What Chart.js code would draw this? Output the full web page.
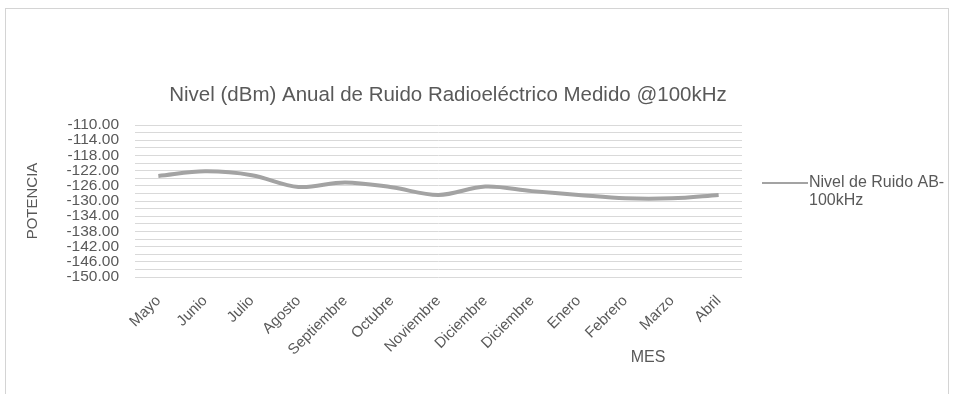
<!DOCTYPE html>
<html lang="es">
<head>
<meta charset="utf-8">
<title>Nivel de Ruido Radioeléctrico</title>
<script src="https://cdn.jsdelivr.net/npm/chart.js@4.4.1/dist/chart.umd.min.js"></script>
<style>
  html, body { margin: 0; padding: 0; background: #fff; }
  .wrap { position: relative; width: 956px; height: 394px; overflow: hidden; }
  .frame {
    position: absolute; left: 5px; top: 8px; width: 944px; height: 400px;
    border: 1px solid #d4d4d4; box-sizing: border-box;
  }
  canvas { position: absolute; left: 0; top: 0; }
</style>
</head>
<body>
<div class="wrap">
  <div class="frame"></div>
  <canvas id="noiseChart" width="956" height="394"></canvas>
</div>
<script>
const MONTHS = ['Mayo', 'Junio', 'Julio', 'Agosto', 'Septiembre', 'Octubre', 'Noviembre',
                'Diciembre', 'Diciembre', 'Enero', 'Febrero', 'Marzo', 'Abril'];

// nivel medido por mes (dBm)
const NOISE_DBM = [-123.4, -122.2, -123.2, -126.3, -125.1, -126.4, -128.4,
                   -126.2, -127.4, -128.4, -129.3, -129.3, -128.4];

const SERIES_NAME = ['Nivel de Ruido AB-', '100kHz'];
const TITLE = 'Nivel (dBm) Anual de Ruido Radioeléctrico Medido @100kHz';

const Y_MIN  = -150;
const Y_MAX  = -110;
const Y_STEP = 2;   // grid every 2, label every 4

const FONT  = "'Liberation Sans Narrow', 'Arial Narrow', 'Liberation Sans', Arial, sans-serif";
const TEXT  = '#595959';
const LINE  = '#a3a3a3';
const GRID  = '#d9d9d9';

// title, side legend and the offset "MES" label are painted by hand
const extraText = {
  id: 'extraText',
  afterDraw(chart) {
    const { ctx, chartArea } = chart;
    ctx.save();
    ctx.fillStyle = TEXT;
    ctx.textBaseline = 'middle';

    ctx.font = `20.5px ${FONT}`;
    ctx.textAlign = 'center';
    ctx.fillText(TITLE, 448, 95);

    ctx.font = `16px ${FONT}`;
    ctx.fillText('MES', chartArea.left + 513, 358);

    const lx = chartArea.right + 20;
    const ly = 183;
    ctx.strokeStyle = chart.data.datasets[0].borderColor;
    ctx.lineWidth = 2;
    ctx.beginPath();
    ctx.moveTo(lx, ly);
    ctx.lineTo(lx + 46, ly);
    ctx.stroke();

    ctx.textAlign = 'left';
    SERIES_NAME.forEach((t, i) => ctx.fillText(t, lx + 47, ly + i * 18));
    ctx.restore();
  }
};

new Chart(document.getElementById('noiseChart'), {
  type: 'line',
  data: {
    labels: MONTHS,
    datasets: [{
      label: SERIES_NAME.join(''),
      data: NOISE_DBM,
      borderColor: LINE,
      backgroundColor: LINE,
      borderWidth: 4,
      pointRadius: 0,
      tension: 0.35,
      fill: false,
    }]
  },
  options: {
    responsive: false,
    animation: false,
    layout: { padding: { top: 125, right: 214, bottom: 0, left: 0 } },
    plugins: {
      legend: { display: false },
      title: { display: false },
      tooltip: { enabled: false },
    },
    scales: {
      x: {
        offset: true,
        grid: { display: false },
        border: { display: false },
        ticks: {
          color: TEXT,
          font: { family: FONT, size: 15 },
          minRotation: 45, maxRotation: 45,
          autoSkip: false,
          padding: 7,
        },
        afterFit(scale) { scale.height = 117; },
      },
      y: {
        min: Y_MIN, max: Y_MAX,
        border: { display: false },
        grid: { color: GRID, drawTicks: false, lineWidth: 1 },
        ticks: {
          stepSize: Y_STEP,
          autoSkip: false,
          padding: 16,
          color: TEXT,
          font: { family: FONT, size: 15.5, lineHeight: 1 },
          callback: v => (Math.round(v - Y_MIN) % 4 === 0 ? v.toFixed(2) : ''),
        },
        title: {
          display: true,
          text: 'POTENCIA',
          color: TEXT,
          font: { family: FONT, size: 15 },
          padding: { top: 24, bottom: 0 },
        },
        afterFit(scale) { scale.width = 135; },
      }
    }
  },
  plugins: [extraText]
});
</script>
</body>
</html>
